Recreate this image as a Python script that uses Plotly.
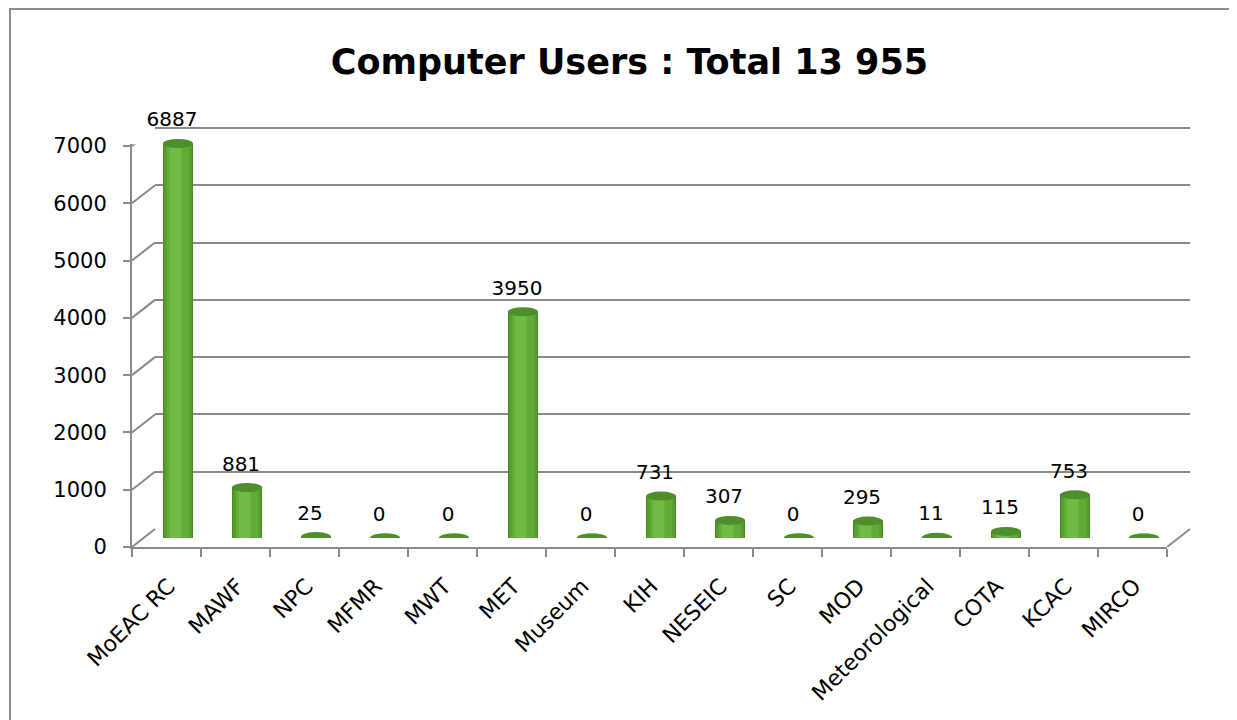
import plotly.graph_objects as go

# ---- data ----
categories = ["MoEAC RC", "MAWF", "NPC", "MFMR", "MWT", "MET", "Museum", "KIH",
              "NESEIC", "SC", "MOD", "Meteorological", "COTA", "KCAC", "MIRCO"]
users = [6887, 881, 25, 0, 0, 3950, 0, 731, 307, 0, 295, 11, 115, 753, 0]
y_ticks = [0, 1000, 2000, 3000, 4000, 5000, 6000, 7000]
title_text = "Computer Users : Total 13 955"

W, H = 1237, 720
PAGE_OFF = 8                 # default body margin of the html page
FONT = "DejaVu Sans"
GRID = "#8a8a8a"
YMAX = 7000
YTOP = 7030                  # a little headroom so the top gridline shows

def px_x(p):
    return (p - PAGE_OFF) / W

def px_y(p):
    return 1 - (p - PAGE_OFF) / H

# front frame (pixels in the screenshot)
FX0, FX1 = 132, 1167
FY0, FY7 = 547, 146          # y of value 0 and value YMAX
PXU = (FY0 - FY7) / YMAX     # pixels per unit
FYT = FY0 - YTOP * PXU
DX, DY = 23, 18              # depth offset of back wall

def dom_x(shift):
    return [px_x(FX0 + shift), px_x(FX1 + shift)]

def dom_y(shift):
    return [px_y(FY0 - shift), px_y(FYT - shift)]

n = len(categories)
idx = list(range(n))
xr = [-0.5, n - 0.5]
yr = [0, YTOP]

fig = go.Figure()

# back wall (gridlines) subplot x2/y2
fig.add_trace(go.Scatter(x=[None], y=[None], xaxis="x2", yaxis="y2",
                         showlegend=False, hoverinfo="skip"))

# cylinder bodies on mid-depth subplot x3/y3 (layered bars for shading)
BAR_W = 0.435
body_layers = [
    (BAR_W, None, "#4a8928"),
    (0.40, None, "#57a030"),
    (0.32, None, "#62ab38"),
    (0.17, -0.12, "#70bb44"),
]
for w, off, col in body_layers:
    fig.add_trace(go.Bar(
        x=idx, y=users, width=w, offset=off if off is not None else -w / 2,
        marker=dict(color=col, line=dict(width=0)),
        xaxis="x3", yaxis="y3", showlegend=False, hoverinfo="skip"))

# value labels on x4/y4
fig.add_trace(go.Scatter(
    x=idx, y=users, text=[str(v) for v in users], mode="text",
    textposition="middle center", cliponaxis=False,
    textfont=dict(family=FONT, size=20, color="#000000"),
    xaxis="x4", yaxis="y4", showlegend=False, hoverinfo="skip"))

# category labels axis (x5/y5)
fig.add_trace(go.Scatter(x=categories, y=[None] * n, xaxis="x5", yaxis="y5",
                         showlegend=False, hoverinfo="skip"))

# front axes (x/y)
fig.add_trace(go.Scatter(x=[None], y=[None], xaxis="x", yaxis="y",
                         showlegend=False, hoverinfo="skip"))

shapes = []
# outer border
shapes.append(dict(type="rect", xref="paper", yref="paper",
                   x0=px_x(10), x1=px_x(1270), y0=px_y(9), y1=px_y(760),
                   line=dict(color="#8c8c8c", width=2), layer="below"))
# diagonal depth lines from the front y axis to the back wall
for v in y_ticks:
    shapes.append(dict(type="line", xref="paper", yref="y",
                       xsizemode="pixel", ysizemode="pixel",
                       xanchor=px_x(FX0), yanchor=v,
                       x0=0, x1=DX, y0=0, y1=DY,
                       line=dict(color=GRID, width=2), layer="below"))
# right floor diagonal
shapes.append(dict(type="line", xref="paper", yref="y",
                   xsizemode="pixel", ysizemode="pixel",
                   xanchor=px_x(FX1), yanchor=0,
                   x0=0, x1=DX, y0=0, y1=DY,
                   line=dict(color=GRID, width=2), layer="below"))
# cylinder bottoms and tops
half = BAR_W / 2
for i, v in zip(idx, users):
    shapes.append(dict(type="circle", xref="x3", yref="y3",
                       ysizemode="pixel", yanchor=0, y0=-4.5, y1=4.5,
                       x0=i - half, x1=i + half,
                       fillcolor="#5aa031", line=dict(width=0), layer="below"))
for i, v in zip(idx, users):
    shapes.append(dict(type="circle", xref="x3", yref="y3",
                       ysizemode="pixel", yanchor=v, y0=-4.5, y1=4.5,
                       x0=i - half, x1=i + half,
                       fillcolor="#4f8e2c", line=dict(width=0), layer="above"))

axis_off = dict(showgrid=False, zeroline=False, showticklabels=False,
                showline=False, ticks="", automargin=False)

fig.update_layout(
    template="none",
    width=W, height=H,
    margin=dict(l=0, r=0, t=0, b=0, autoexpand=False),
    paper_bgcolor="#ffffff", plot_bgcolor="rgba(0,0,0,0)",
    barmode="overlay",
    showlegend=False,
    title=dict(text=title_text, x=px_x(629.5), y=px_y(62),
               xanchor="center", yanchor="middle", automargin=False,
               font=dict(family=FONT, size=35, color="#000000", weight="bold")),
    # front axes
    xaxis=dict(domain=dom_x(0), range=xr, anchor="y", showgrid=False,
               zeroline=False, showticklabels=False, showline=True,
               linecolor=GRID, linewidth=2, ticks="outside", ticklen=8,
               tickcolor=GRID, tickwidth=2, automargin=False,
               tickvals=[i - 0.5 for i in idx] + [n - 0.5]),
    yaxis=dict(domain=dom_y(0), range=yr, anchor="x", showgrid=False,
               zeroline=False, showline=True, linecolor=GRID, linewidth=2,
               ticks="outside", ticklen=7, tickcolor=GRID, tickwidth=2,
               tickvals=y_ticks, ticklabelstandoff=12, automargin=False,
               tickfont=dict(family=FONT, size=21, color="#000000")),
    # back wall
    xaxis2=dict(domain=dom_x(DX), range=xr, anchor="y2", **axis_off),
    yaxis2=dict(domain=dom_y(DY), range=yr, anchor="x2", showgrid=True,
                gridcolor=GRID, gridwidth=2, tickvals=y_ticks, automargin=False,
                zeroline=False, showticklabels=False, showline=False, ticks=""),
    # mid depth (cylinders)
    xaxis3=dict(domain=dom_x(DX / 2), range=xr, anchor="y3", **axis_off),
    yaxis3=dict(domain=dom_y(DY / 2), range=yr, anchor="x3", **axis_off),
    # value labels
    xaxis4=dict(domain=dom_x(DX / 2 - 6), range=xr, anchor="y4", **axis_off),
    yaxis4=dict(domain=dom_y(DY / 2 + 22), range=yr, anchor="x4", **axis_off),
    # category labels
    xaxis5=dict(domain=dom_x(2), type="category", anchor="y5", range=xr,
                showgrid=False, zeroline=False, showline=False, ticks="",
                tickangle=-45, ticklabelstandoff=21, automargin=False,
                tickfont=dict(family=FONT, size=22, color="#000000")),
    yaxis5=dict(domain=dom_y(0), range=yr, anchor="x5", **axis_off),
    shapes=shapes,
)

fig.write_html("out.html")
